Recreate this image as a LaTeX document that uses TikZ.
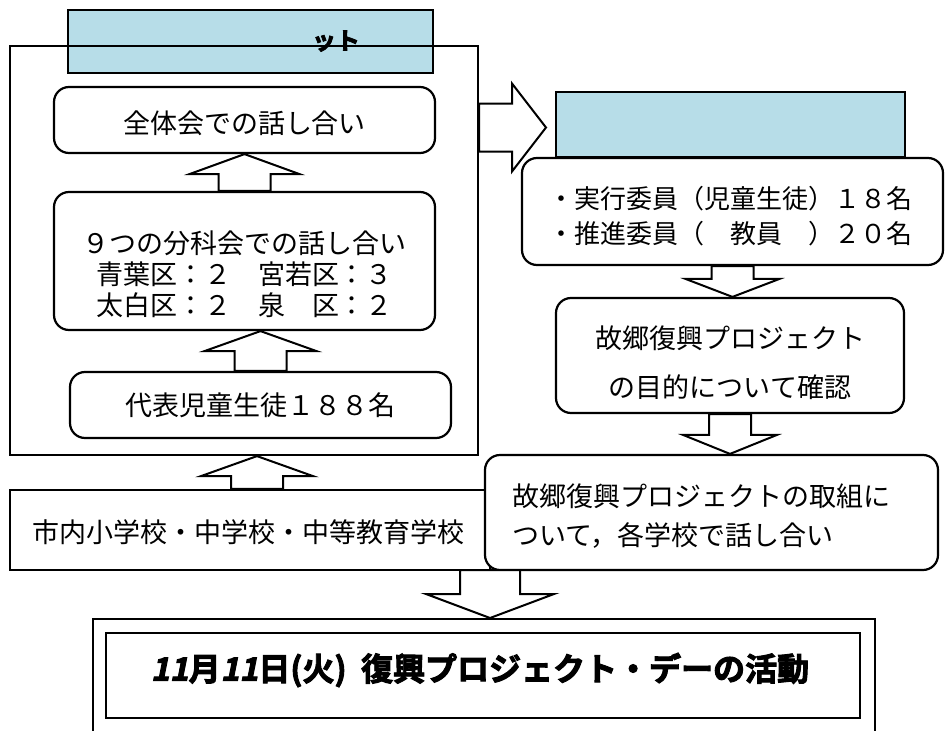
\documentclass[tikz,border=0pt]{standalone}
\usepackage{fontspec}
\newfontfamily\jp{Noto Sans CJK JP}
\newfontfamily\jpbold{Noto Sans CJK JP Bold}[FakeBold=3]
\newfontfamily\jpboldit{Noto Sans CJK JP Bold}[FakeBold=3,FakeSlant=0.2]
\usetikzlibrary{calc}
\definecolor{hdrblue}{RGB}{183,221,232}
\tikzset{
  plainbox/.style={draw, line width=2.2pt, fill=white, inner sep=0pt},
  rbox/.style={plainbox, rounded corners=15pt},
  hdrbox/.style={draw, line width=2pt, fill=hdrblue, inner sep=0pt},
  blk/.style={draw, line width=2pt, fill=white, line join=miter},
  txt/.style={font=\jp\fontsize{27}{31}\selectfont, inner sep=0pt},
}
% vertical block arrow: from (shaft end), to (tip), head half width, shaft half width, head length
\newcommand\vblock[5]{%
  \draw[blk] let \p1=#1, \p2=#2, \n1={sign(\y2-\y1)} in
    (\x1,\y2) -- (\x1+#3pt,\y2-\n1*#5pt) -- (\x1+#4pt,\y2-\n1*#5pt) -- (\x1+#4pt,\y1)
    -- (\x1-#4pt,\y1) -- (\x1-#4pt,\y2-\n1*#5pt) -- (\x1-#3pt,\y2-\n1*#5pt) -- cycle;}
\newcommand\hblock[5]{%
  \draw[blk] let \p1=#1, \p2=#2 in
    (\x2,\y1) -- (\x2-#5pt,\y1+#3pt) -- (\x2-#5pt,\y1+#4pt) -- (\x1,\y1+#4pt)
    -- (\x1,\y1-#4pt) -- (\x2-#5pt,\y1-#4pt) -- (\x2-#5pt,\y1-#3pt) -- cycle;}
\begin{document}
\begin{tikzpicture}[x=1pt,y=-1pt]
\useasboundingbox[fill=white] (0,0) rectangle (946,731);

% left header (blue)
\node[hdrbox, minimum width=365pt, minimum height=63pt] (hdrL) at (250.5,41.5) {};
\node[font=\jpbold\fontsize{24}{24}\selectfont, inner sep=0pt] (hdrLtxt) at (336,41) {ット};
% left frame
\node[draw, line width=2.2pt, inner sep=0pt, minimum width=468pt, minimum height=409pt] (frame) at (244,250.5) {};

% boxes in left frame
\node[rbox, minimum width=381pt, minimum height=66pt] (zentai) at (244.5,120) {};
\node[txt] (zentaitxt) at (244.5,123) {全体会での話し合い};

\node[rbox, minimum width=381pt, minimum height=138pt] (bunka) at (244.5,261) {};
\node[txt, align=center] (bunkatxt) at (244.5,274) {９つの分科会での話し合い\\青葉区：２　宮若区：３\\太白区：２　泉　区：２};

\node[rbox, minimum width=381pt, minimum height=66pt] (daihyo) at (260.5,405) {};
\node[txt] (daihyotxt) at (daihyo) {代表児童生徒１８８名};

% schools
\node[plainbox, minimum width=480pt, minimum height=80pt] (schools) at (250,530) {};
\node[txt] (schoolstxt) at (248.5,532) {市内小学校・中学校・中等教育学校};

% right column
\node[hdrbox, minimum width=349pt, minimum height=65pt] (hdrR) at (730.5,124.5) {};
\node[rbox, minimum width=421pt, minimum height=107pt] (iin) at (732.5,211.5) {};
\node[txt, font=\jp\fontsize{26}{35}\selectfont, align=left, anchor=west] (iintxt) at (548,216.5) {・実行委員（児童生徒）１８名\\・推進委員（　教員　）２０名};

\node[rbox, minimum width=348pt, minimum height=115pt] (mokuteki) at (730,355.5) {};
\node[txt, font=\jp\fontsize{27}{49}\selectfont, align=center] (mokutekitxt) at (730,363) {故郷復興プロジェクト\\の目的について確認};

\node[rbox, minimum width=453pt, minimum height=115pt] (torikumi) at (711.5,512.5) {};
\node[txt, font=\jp\fontsize{27}{39}\selectfont, align=left, anchor=west] (torikumitxt) at (512,516) {故郷復興プロジェクトの取組に\\ついて，各学校で話し合い};

% bottom
\node[plainbox, minimum width=782pt, minimum height=130pt, anchor=north] (outer) at (484,618) {};
\node[plainbox, minimum width=754pt, minimum height=85pt, anchor=north] (inner) at (483,632) {};
\node[inner sep=0pt] (title) at (480,670) {{\jpboldit\fontsize{32}{32}\selectfont 11}{\jpbold\fontsize{32}{32}\selectfont 月}{\jpboldit\fontsize{32}{32}\selectfont 11}{\jpbold\fontsize{32}{32}\selectfont 日(火)\ \ 復興プロジェクト・デーの活動}};

\coordinate (split) at (490,570);

% block arrows
\vblock{(bunka.north)}{(zentai.south)}{55}{26}{20}
\vblock{(daihyo.north)}{(bunka.south)}{56}{26}{20}
\vblock{($(schools.north)+(7,0)$)}{(frame.south)}{56}{26}{20}
\hblock{($(frame.east |- hdrR.west)+(0,3)$)}{($(hdrR.west)+(-9,3)$)}{44}{24}{34}
\vblock{(iin.south)}{(mokuteki.north)}{47}{21}{18}
\vblock{(mokuteki.south)}{(torikumi.north)}{47}{21}{19}
\vblock{(split)}{(outer.north)}{64}{30}{24}
\end{tikzpicture}
\end{document}
